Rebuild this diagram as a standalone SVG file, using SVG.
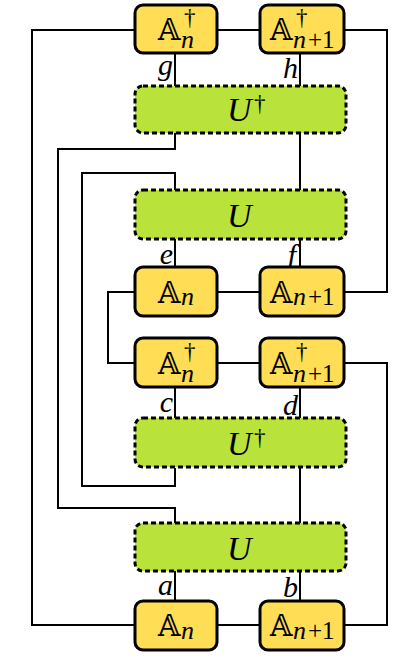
<svg xmlns="http://www.w3.org/2000/svg" width="415" height="659" viewBox="0 0 415 659">
<style>
.w{fill:none;stroke:#000;stroke-width:2}
.a{fill:#FFDD55;stroke:#000;stroke-width:3}
.u{fill:#B9E23A;stroke:#000;stroke-width:3;stroke-dasharray:5 3}
.bb{font-family:"DejaVu Serif","DejaVu Sans",serif;font-size:29px}
.sub{font-family:"Liberation Serif",serif;font-style:italic;font-size:26px}
.subr{font-family:"Liberation Serif",serif;font-style:normal;font-size:25px}
.dag{font-family:"Liberation Serif",serif;font-style:normal;font-size:23px}
.lab{font-family:"Liberation Serif",serif;font-style:italic;font-size:30px;text-anchor:end}
.U{font-family:"Liberation Serif",serif;font-style:italic;font-size:34px}
</style>
<rect width="415" height="659" fill="#fff"/>
<g id="connectors" class="w">
<path d="M135,30 H32 V625 H135"/>
<path d="M217,30 H260"/>
<path d="M344,30 H387 V292 H344"/>
<path d="M175,53 V86"/>
<path d="M300,53 V86"/>
<path d="M175,133 V149 H58 V508 H175 V523"/>
<path d="M300,133 V190"/>
<path d="M175,190 V173 H82 V486 H175 V468"/>
<path d="M175,239 V267"/>
<path d="M300,239 V267"/>
<path d="M217,292 H260"/>
<path d="M135,292 H108 V363 H135"/>
<path d="M217,363 H260"/>
<path d="M344,363 H387 V625 H344"/>
<path d="M175,388 V418"/>
<path d="M300,388 V418"/>
<path d="M300,468 V523"/>
<path d="M175,571 V601"/>
<path d="M300,571 V601"/>
<path d="M217,625 H260"/>
</g>
<g id="labels">
<text class="lab" x="173" y="75">g</text>
<text class="lab" x="298" y="78">h</text>
<text class="lab" x="173" y="264">e</text>
<text class="lab" x="296" y="265">f</text>
<text class="lab" x="173" y="412">c</text>
<text class="lab" x="298" y="415">d</text>
<text class="lab" x="173" y="595">a</text>
<text class="lab" x="298" y="597">b</text>
</g>
<g id="Adag_n_top">
<rect class="a" x="135" y="5" width="82" height="48" rx="8"/>
<text x="158" y="40"><tspan class="bb">𝔸</tspan><tspan class="dag" x="184" y="25">†</tspan><tspan class="sub" x="181" y="48">n</tspan></text>
</g>
<g id="Adag_n1_top">
<rect class="a" x="260" y="5" width="84" height="48" rx="8"/>
<text x="270" y="40"><tspan class="bb">𝔸</tspan><tspan class="dag" x="296" y="25">†</tspan><tspan class="sub" x="293" y="48">n</tspan><tspan class="subr" x="308" y="48">+1</tspan></text>
</g>
<g id="Udag_top">
<rect class="u" x="135" y="86" width="211" height="47" rx="8"/>
<text x="227" y="121"><tspan class="U">U</tspan><tspan class="dag" x="254" y="111">†</tspan></text>
</g>
<g id="U_2">
<rect class="u" x="135" y="190" width="211" height="49" rx="8"/>
<text class="U" x="227" y="227">U</text>
</g>
<g id="A_n_3">
<rect class="a" x="135" y="267" width="82" height="49" rx="8"/>
<text x="158" y="303"><tspan class="bb">𝔸</tspan><tspan class="sub" x="181" y="305">n</tspan></text>
</g>
<g id="A_n1_3">
<rect class="a" x="260" y="267" width="84" height="49" rx="8"/>
<text x="270" y="303"><tspan class="bb">𝔸</tspan><tspan class="sub" x="293" y="305">n</tspan><tspan class="subr" x="308" y="305">+1</tspan></text>
</g>
<g id="Adag_n_4">
<rect class="a" x="135" y="338" width="82" height="49" rx="8"/>
<text x="158" y="374"><tspan class="bb">𝔸</tspan><tspan class="dag" x="184" y="359">†</tspan><tspan class="sub" x="181" y="382">n</tspan></text>
</g>
<g id="Adag_n1_4">
<rect class="a" x="260" y="338" width="84" height="49" rx="8"/>
<text x="270" y="374"><tspan class="bb">𝔸</tspan><tspan class="dag" x="296" y="359">†</tspan><tspan class="sub" x="293" y="382">n</tspan><tspan class="subr" x="308" y="382">+1</tspan></text>
</g>
<g id="Udag_5">
<rect class="u" x="135" y="418" width="211" height="49" rx="8"/>
<text x="227" y="455"><tspan class="U">U</tspan><tspan class="dag" x="254" y="445">†</tspan></text>
</g>
<g id="U_6">
<rect class="u" x="135" y="523" width="211" height="48" rx="8"/>
<text class="U" x="227" y="560">U</text>
</g>
<g id="A_n_bottom">
<rect class="a" x="135" y="601" width="82" height="49" rx="8"/>
<text x="158" y="636"><tspan class="bb">𝔸</tspan><tspan class="sub" x="181" y="639">n</tspan></text>
</g>
<g id="A_n1_bottom">
<rect class="a" x="260" y="601" width="84" height="49" rx="8"/>
<text x="270" y="636"><tspan class="bb">𝔸</tspan><tspan class="sub" x="293" y="639">n</tspan><tspan class="subr" x="308" y="639">+1</tspan></text>
</g>
</svg>
